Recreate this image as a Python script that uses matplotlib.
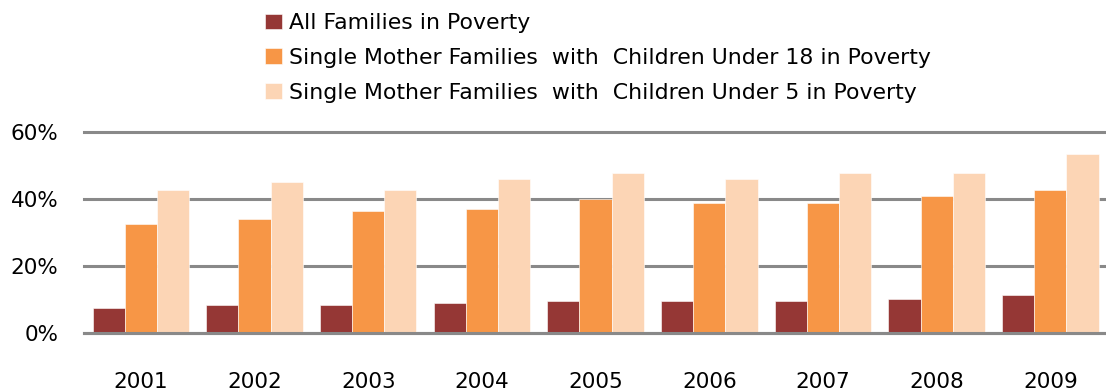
import matplotlib
matplotlib.use("Agg")
import matplotlib.pyplot as plt
import numpy as np
from matplotlib.ticker import FuncFormatter

years = ["2001", "2002", "2003", "2004", "2005", "2006", "2007", "2008", "2009"]
all_families = [7.6, 8.4, 8.4, 9.0, 9.6, 9.6, 9.6, 10.2, 11.4]
single_under18 = [32.7, 34.0, 36.5, 37.1, 40.2, 39.0, 39.0, 41.0, 42.8]
single_under5 = [42.8, 45.3, 42.8, 46.0, 47.9, 46.0, 47.9, 47.9, 53.5]

labels = ["All Families in Poverty",
          "Single Mother Families  with  Children Under 18 in Poverty",
          "Single Mother Families  with  Children Under 5 in Poverty"]
colors = ["#953735", "#F79646", "#FCD5B5"]

plt.rcParams['font.family'] = ['DejaVu Sans']

fig = plt.figure(figsize=(11.06, 3.91), dpi=100)
ax = fig.add_axes([0.076, 0.1476, 0.925, 0.514])

x = np.arange(len(years))
width = 0.283
series = [all_families, single_under18, single_under5]
for i, (vals, col, lab) in enumerate(zip(series, colors, labels)):
    ax.bar(x + (i - 1) * width, vals, width, color=col, label=lab,
           edgecolor='white', linewidth=0.4, zorder=3)

ax.set_xlim(-0.5, len(years) - 0.5)
ax.set_ylim(0, 60)
ax.set_yticks([0, 20, 40, 60])
ax.yaxis.set_major_formatter(FuncFormatter(lambda v, p: f"{v:.0f}%"))
ax.set_xticks(x)
ax.set_xticklabels(years)
ax.grid(axis='y', color='#898989', linewidth=2.2, zorder=0)
ax.set_axisbelow(True)
for gl in ax.get_ygridlines():
    gl.set_clip_on(False)

for s in ['top', 'right', 'left']:
    ax.spines[s].set_visible(False)
ax.spines['bottom'].set_color('#898989')
ax.spines['bottom'].set_linewidth(2.2)
ax.spines['bottom'].set_zorder(4)

ax.tick_params(axis='both', length=0, labelsize=15.5, colors='black')
ax.tick_params(axis='y', pad=18.5)
ax.tick_params(axis='x', pad=28)

fig.legend(loc='upper left', bbox_to_anchor=(265 / 1106, 1 - 13 / 391),
           frameon=False, fontsize=15.8, handlelength=0.78, handleheight=0.72,
           handletextpad=0.3, labelspacing=0.68, borderaxespad=0, borderpad=0)

fig.savefig("out.png", dpi=100)
